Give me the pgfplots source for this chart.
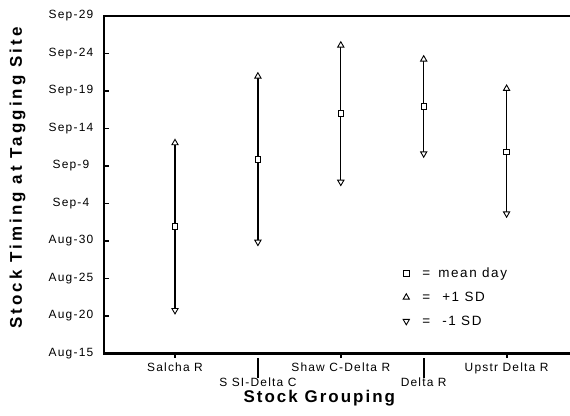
\documentclass[border=0pt]{standalone}
\usepackage{fontspec}
\setmainfont{Liberation Sans}
\newfontfamily\tickfont[LetterSpace=10]{Liberation Sans}
\newfontfamily\legfont[LetterSpace=12]{Liberation Sans}
\newfontfamily\labfont[LetterSpace=12]{Liberation Sans}
\newfontfamily\ylabfont[LetterSpace=18]{Liberation Sans}
\usepackage{pgfplots}
\pgfplotsset{compat=1.18}
\begin{document}
\begin{tikzpicture}
\useasboundingbox (0,0) rectangle (570bp,416bp);
\begin{axis}[
  at={(104bp,62.5bp)}, anchor=south west,
  scale only axis, width=468bp, height=337.5bp,
  xmin=0.1435, xmax=5.789, ymin=0, ymax=45,
  axis line style={line width=2.5bp},
  tick pos=left, tick align=inside, major tick length=5bp,
  every tick/.style={black, line width=1.8bp},
  ytick={0,5,...,45},
  yticklabels={Aug-15,Aug-20,Aug-25,Aug-30,Sep-4,Sep-9,Sep-14,Sep-19,Sep-24,Sep-29},
  yticklabel style={anchor=center, xshift=-33bp, font=\tickfont\fontsize{12}{14}\selectfont},
  xtick={1,3,5},
  xticklabels={Salcha R, Shaw C-Delta R, Upstr Delta R},
  xtick style={yshift=-4bp},
  xticklabel style={yshift=-6bp, font=\tickfont\fontsize{12}{14}\selectfont},
  extra x ticks={2,4},
  extra x tick labels={S SI-Delta C, Delta R},
  extra x tick style={tick align=outside, major tick length=20bp, xtick style={yshift=0bp},
     xticklabel style={yshift=5bp}},
  xlabel={Stock Grouping},
  xlabel style={at={(axis description cs:0.46,-0.132)}, anchor=center, font=\labfont\bfseries\fontsize{17}{19}\selectfont},
  ylabel={Stock Timing at Tagging Site},
  ylabel style={at={(axis description cs:-0.1848,0.52)}, anchor=center, font=\ylabfont\bfseries\fontsize{17}{19}\selectfont},
  legend style={draw=none, fill=none, at={(axis cs:3.714,12.0)}, anchor=north west,
     row sep=9bp, font=\legfont\fontsize{13.5}{15}\selectfont},
  legend cell align=left,
  clip=false,
]
\addplot[forget plot, black, line width=1.2bp] coordinates {(1,5.76) (1,28.07)};
\addplot[forget plot, black, line width=1.2bp] coordinates {(2,14.87) (2,36.96)};
\addplot[forget plot, black, line width=1.2bp] coordinates {(3,22.87) (3,41.09)};
\addplot[forget plot, black, line width=1.2bp] coordinates {(4,26.65) (4,39.23)};
\addplot[forget plot, black, line width=1.2bp] coordinates {(5,18.65) (5,35.32)};
\addplot[only marks, mark=square*, mark size=2.7bp, mark options={fill=white, draw=black, line width=0.9bp}]
  coordinates {(1,16.96) (2,25.89) (3,31.99) (4,32.96) (5,26.87)};
\addlegendentry{\hspace{11bp}=\hspace{8bp}mean day}
\addplot[only marks, mark=triangle*, mark size=3.6bp, mark options={fill=white, draw=black, line width=0.9bp}]
  coordinates {(1,28.07) (2,36.96) (3,41.09) (4,39.23) (5,35.32)};
\addlegendentry{\hspace{11bp}=\hspace{12bp}+1 SD}
\addplot[only marks, mark=triangle*, mark size=3.6bp, mark options={fill=white, draw=black, line width=0.9bp, rotate=180}]
  coordinates {(1,5.76) (2,14.87) (3,22.87) (4,26.65) (5,18.65)};
\addlegendentry{\hspace{11bp}=\hspace{12bp}-1 SD}
\end{axis}
\end{tikzpicture}
\end{document}
